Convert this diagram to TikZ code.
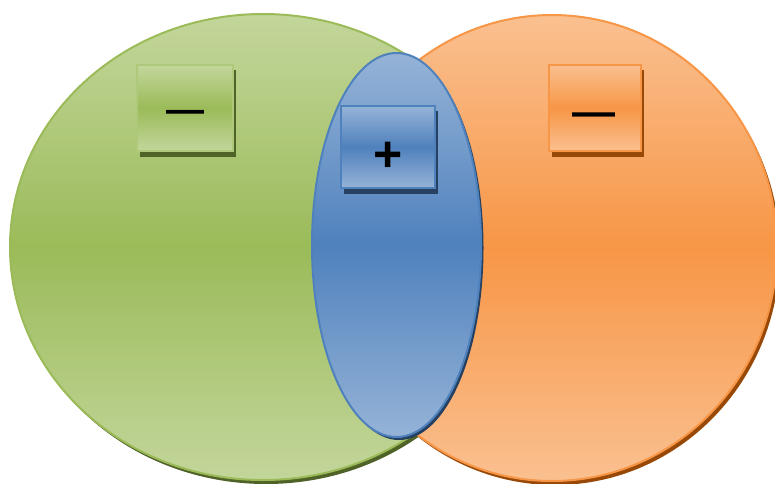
\documentclass[tikz,border=0pt]{standalone}
\usepackage{fontspec}
\setmainfont{Liberation Sans}
\definecolor{gLight}{HTML}{C3D69B}
\definecolor{gMid}{HTML}{9BBB59}
\definecolor{gDark}{HTML}{4F6228}
\definecolor{oLight}{HTML}{FAC090}
\definecolor{oMid}{HTML}{F79646}
\definecolor{oDark}{HTML}{984807}
\definecolor{bLight}{HTML}{95B3D7}
\definecolor{bMid}{HTML}{4F81BD}
\definecolor{bDark}{HTML}{254061}
\tikzset{
  gfill/.style={top color=gLight, bottom color=gLight, middle color=gMid, draw=gMid, line width=2pt},
  ofill/.style={top color=oLight, bottom color=oLight, middle color=oMid, draw=oMid, line width=2pt},
  bfill/.style={top color=bLight, bottom color=bLight, middle color=bMid, draw=bMid, line width=2pt},
  sign/.style={inner sep=0pt, anchor=base, text=black},
}
\begin{document}
\begin{tikzpicture}[x=1pt,y=-1pt]
\useasboundingbox (0,0) rectangle (775,483);
% green
\fill[gDark] (266,251) ellipse [x radius=253, y radius=233];
\shade[gfill] (263,247) ellipse [x radius=253, y radius=233];
% orange
\fill[oDark] (555,252) ellipse [x radius=225, y radius=233];
\shade[ofill] (552,248) ellipse [x radius=225, y radius=233];
% blue
\fill[bDark] (399,248) ellipse [x radius=84.5, y radius=192];
\shade[bfill] (396.5,245) ellipse [x radius=84.5, y radius=192];
% boxes
\fill[gDark] (140,70) rectangle (236,157);
\shade[gfill, draw=gMid!80!white, line width=2.5pt] (137,65) rectangle (233,151);
\node[sign, font=\bfseries\fontsize{38}{38}\selectfont] (gm) at (185,122) {—};
\fill[oDark] (552,70) rectangle (644,157);
\shade[ofill, line width=2.5pt] (549,65) rectangle (641,151);
\node[sign, font=\bfseries\fontsize{43}{43}\selectfont] (om) at (594,126) {—};
\fill[bDark] (344,111) rectangle (438,194);
\shade[bfill, line width=2.5pt] (341,106) rectangle (435,188);
\node[sign, font=\bfseries\fontsize{50}{50}\selectfont] (bp) at (388,171) {+};
\end{tikzpicture}
\end{document}
